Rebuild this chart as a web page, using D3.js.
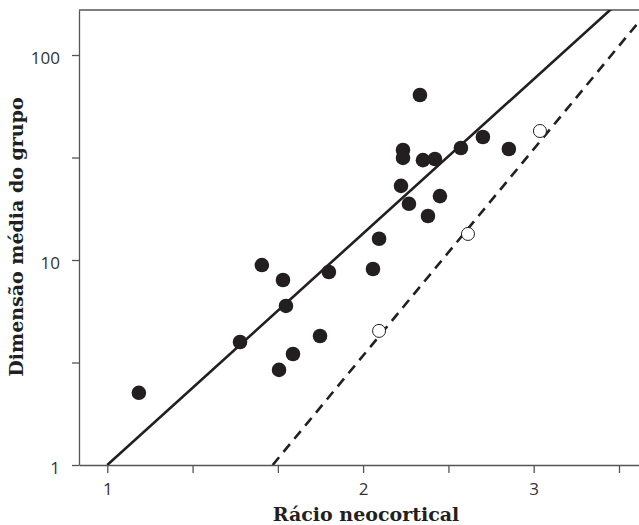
<!DOCTYPE html>
<html>
<head>
<meta charset="utf-8">
<script src="https://cdn.jsdelivr.net/npm/d3@7"></script>
<style>
  body { margin: 0; background: #fff; }
  svg { display: block; }
</style>
</head>
<body>
<div id="chart"></div>
<script>
// neocortex ratio (x) vs mean group size (y)
const ratioFilled = [1.089, 1.431, 1.518, 1.607, 1.620, 1.590, 1.651, 1.776, 1.819, 2.049, 2.083, 2.210,
  2.222, 2.222, 2.258, 2.326, 2.345, 2.377, 2.422, 2.455, 2.598, 2.757, 2.957];
const groupFilled = [2.25, 3.98, 9.45, 7.99, 5.97, 2.91, 3.48, 4.26, 8.74, 9.04, 12.7, 23.0,
  34.4, 31.5, 18.8, 63.8, 30.7, 16.4, 31.1, 20.5, 35.2, 39.8, 34.8];

const ratioOpen = [2.083, 2.648, 3.216];
const groupOpen = [4.51, 13.4, 42.6];

// fitted lines as end points [ratio, group size]
const solidLine = [[1, 1], [4.2, 222]];
const dashedLine = [[1.563, 1], [4.2, 145]];

const xTickValues = [1, 1.259, 1.585, 1.995, 2.512, 3.162, 3.981];
const xTickLabels = ["1", "", "", "2", "", "3", ""];
const yTickValues = [1, 3.162, 10, 31.62, 100];
const yTickLabels = ["1", "", "10", "", "100"];

const width = 639;
const height = 525;
const marginTop = 10;
const marginRight = 0;
const marginBottom = 60;
const marginLeft = 79;

const svg = d3.select("#chart").append("svg")
    .attr("width", width)
    .attr("height", height)
    .attr("viewBox", [0, 0, width, height]);

const x = d3.scaleLog()
    .domain([0.9265, 4.202])
    .range([marginLeft, width - marginRight]);

const y = d3.scaleLog()
    .domain([1, 165.8])
    .range([height - marginBottom, marginTop]);

svg.append("clipPath")
    .attr("id", "plot")
  .append("rect")
    .attr("x", marginLeft)
    .attr("y", marginTop)
    .attr("width", width - marginLeft - marginRight)
    .attr("height", height - marginTop - marginBottom);

const axisColor = "#555";
const tickFont = "'Open Sans', 'Noto Sans', sans-serif";

// X axis
svg.append("g")
    .attr("transform", `translate(0,${height - marginBottom})`)
    .call(d3.axisBottom(x)
        .tickValues(xTickValues)
        .tickFormat((d, i) => xTickLabels[i])
        .tickSize(8)
        .tickPadding(10)
        .tickSizeOuter(0))
    .call(g => g.select(".domain").attr("stroke", axisColor).attr("stroke-width", 1.3))
    .call(g => g.selectAll(".tick line").attr("stroke", axisColor).attr("stroke-width", 1.3))
    .call(g => g.selectAll(".tick text")
        .attr("fill", "#333")
        .attr("font-family", tickFont)
        .attr("font-size", 17));

// Y axis
svg.append("g")
    .attr("transform", `translate(${marginLeft},0)`)
    .call(d3.axisLeft(y)
        .tickValues(yTickValues)
        .tickFormat((d, i) => yTickLabels[i])
        .tickSize(7)
        .tickPadding(12)
        .tickSizeOuter(0))
    .call(g => g.select(".domain").attr("stroke", axisColor).attr("stroke-width", 1.3))
    .call(g => g.selectAll(".tick line").attr("stroke", axisColor).attr("stroke-width", 1.3))
    .call(g => g.selectAll(".tick text")
        .attr("fill", "#333")
        .attr("dy", "0.5em")
        .attr("font-family", tickFont)
        .attr("font-size", 17));

// top frame line
svg.append("line")
    .attr("x1", marginLeft)
    .attr("x2", width - marginRight)
    .attr("y1", marginTop)
    .attr("y2", marginTop)
    .attr("stroke", axisColor)
    .attr("stroke-width", 1.3);

const line = d3.line()
    .x(d => x(d[0]))
    .y(d => y(d[1]));

const lines = svg.append("g").attr("clip-path", "url(#plot)");

lines.append("path")
    .datum(solidLine)
    .attr("fill", "none")
    .attr("stroke", "#231f20")
    .attr("stroke-width", 2.6)
    .attr("d", line);

lines.append("path")
    .datum(dashedLine)
    .attr("fill", "none")
    .attr("stroke", "#231f20")
    .attr("stroke-width", 2.6)
    .attr("stroke-dasharray", "10,7")
    .attr("d", line);

// filled points
svg.append("g")
  .selectAll("circle")
  .data(ratioFilled)
  .join("circle")
    .attr("cx", d => x(d))
    .attr("cy", (d, i) => y(groupFilled[i]))
    .attr("r", 7.3)
    .attr("fill", "#231f20");

// open points
svg.append("g")
  .selectAll("circle")
  .data(ratioOpen)
  .join("circle")
    .attr("cx", d => x(d))
    .attr("cy", (d, i) => y(groupOpen[i]))
    .attr("r", 6.5)
    .attr("fill", "#fff")
    .attr("stroke", "#231f20")
    .attr("stroke-width", 1);

// axis titles
const titleFont = "'DejaVu Serif', serif";

svg.append("text")
    .attr("x", 366)
    .attr("y", 521)
    .attr("text-anchor", "middle")
    .attr("font-family", titleFont)
    .attr("font-weight", "bold")
    .attr("font-size", 19)
    .attr("fill", "#231f20")
    .text("Rácio neocortical");

svg.append("text")
    .attr("transform", "translate(23,237) rotate(-90)")
    .attr("text-anchor", "middle")
    .attr("font-family", titleFont)
    .attr("font-weight", "bold")
    .attr("font-size", 19)
    .attr("fill", "#231f20")
    .text("Dimensão média do grupo");
</script>
</body>
</html>
